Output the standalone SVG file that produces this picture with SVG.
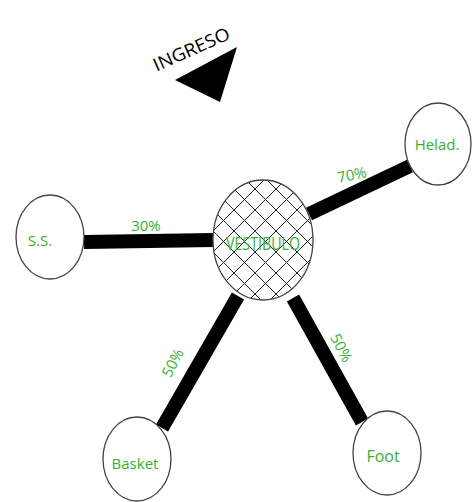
<svg xmlns="http://www.w3.org/2000/svg" width="473" height="502" viewBox="0 0 473 502">
<style>
.node{fill:#fff;stroke:#444;stroke-width:1.3}
.lbl{font-family:"Open Sans","Liberation Sans",sans-serif;fill:#35b035;text-anchor:middle}
.conn{stroke:#000;stroke-width:14;stroke-linecap:butt}
</style>
<defs>
<pattern id="hatch" patternUnits="userSpaceOnUse" width="21" height="21" x="3" y="0">
<rect width="21" height="21" fill="#fff"/>
<path d="M0,0 L21,21 M21,0 L0,21" stroke="#222" stroke-width="1"/>
</pattern>
</defs>
<rect width="473" height="502" fill="#fff"/>
<g id="ingreso">
<text x="194" y="55" transform="rotate(-24 194 55)" font-family="Open Sans, Liberation Sans, sans-serif" font-size="18" text-anchor="middle" fill="#000" textLength="82" lengthAdjust="spacingAndGlyphs">INGRESO</text>
<polygon points="237,47 175,80 220,102" fill="#000"/>
</g>
<g id="connectors">
<line class="conn" x1="84" y1="242" x2="214" y2="240"/>
<line class="conn" x1="309" y1="214" x2="410" y2="166"/>
<line class="conn" x1="238" y1="296" x2="162" y2="428"/>
<line class="conn" x1="293" y1="298" x2="362" y2="422"/>
<text class="lbl" x="146" y="231" font-size="15">30%</text>
<text class="lbl" x="352" y="180" font-size="15" transform="rotate(-12 352 175)">70%</text>
<text class="lbl" x="173" y="368" font-size="15" transform="rotate(-62 173 363)">50%</text>
<text class="lbl" x="341" y="353" font-size="15" transform="rotate(62 341 348)">50%</text>
</g>
<g id="vestibulo">
<ellipse class="node" cx="263" cy="240" rx="50" ry="60" style="fill:url(#hatch)"/>
<text class="lbl" x="263" y="250" font-size="18" textLength="74" lengthAdjust="spacingAndGlyphs">VESTIBULO</text>
</g>
<g id="helad">
<ellipse class="node" cx="438" cy="144" rx="33" ry="41"/>
<text class="lbl" x="437" y="150" font-size="15">Helad.</text>
</g>
<g id="ss">
<ellipse class="node" cx="50" cy="237" rx="34" ry="42"/>
<text class="lbl" x="40" y="246" font-size="15">S.S.</text>
</g>
<g id="basket">
<ellipse class="node" cx="137" cy="459" rx="34" ry="42"/>
<text class="lbl" x="135" y="469" font-size="15">Basket</text>
</g>
<g id="foot">
<ellipse class="node" cx="387" cy="453" rx="34" ry="42"/>
<text class="lbl" x="383" y="462" font-size="16">Foot</text>
</g>
</svg>
